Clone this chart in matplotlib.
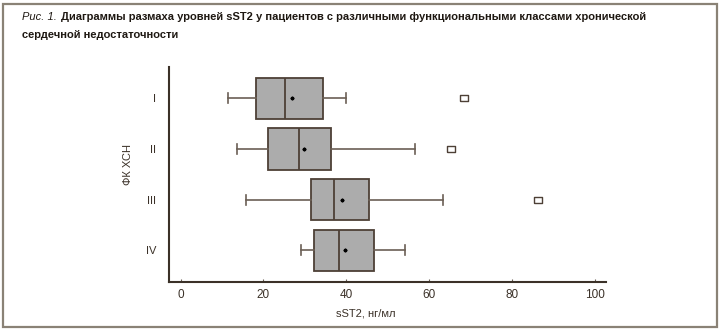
import matplotlib.pyplot as plt
from matplotlib.patches import Rectangle

# sST2 levels by NYHA functional class
classes = ["I", "II", "III", "IV"]
q1 = [18.2, 21.2, 31.4, 32.2]
medians = [25.2, 28.7, 37.0, 38.3]
q3 = [34.3, 36.4, 45.5, 46.8]
whis_low = [11.4, 13.7, 15.7, 29.2]
whis_high = [40.0, 56.6, 63.3, 54.2]
means = [26.9, 29.8, 39.0, 39.7]
outliers = [[68.5], [65.4], [86.3], []]

caption_lead = "Рис. 1."
caption_line1 = "Диаграммы размаха уровней sST2 у пациентов с различными функциональными классами хронической"
caption_line2 = "сердечной недостаточности"

ink = "#3b3128"
frame = "#8a8276"

plt.rcParams["font.family"] = ["Liberation Sans", "DejaVu Sans"]

fig = plt.figure(figsize=(7.2, 3.31), dpi=100)
ax = fig.add_axes([0.2347, 0.149, 0.6066, 0.6487])

stats = []
for i, name in enumerate(classes):
    stats.append({
        "label": name,
        "q1": q1[i],
        "med": medians[i],
        "q3": q3[i],
        "whislo": whis_low[i],
        "whishi": whis_high[i],
        "mean": means[i],
        "fliers": outliers[i],
    })

rect_marker = [(-1.5, -1), (1.5, -1), (1.5, 1), (-1.5, 1), (-1.5, -1)]

ax.bxp(
    stats,
    positions=range(1, len(classes) + 1),
    vert=False,
    widths=0.81,
    capwidths=0.2,
    patch_artist=True,
    showmeans=True,
    boxprops=dict(facecolor="#acacac", edgecolor="#4d4036", linewidth=1.3),
    medianprops=dict(color="#4d4036", linewidth=1.3),
    whiskerprops=dict(color="#6b5f55", linewidth=1.2),
    capprops=dict(color="#6b5f55", linewidth=1.2),
    meanprops=dict(marker="P", markersize=2, markerfacecolor="black",
                   markeredgecolor="black"),
    flierprops=dict(marker=rect_marker, markersize=6, markerfacecolor="white",
                    markeredgecolor="#4d4036", markeredgewidth=1.0),
)

ax.set_xlim(-2.8, 102.7)
ax.set_ylim(4.62, 0.38)
ax.set_xticks([0, 20, 40, 60, 80, 100])
ax.set_yticks(range(1, len(classes) + 1))
ax.set_yticklabels(classes)

for side in ["top", "right"]:
    ax.spines[side].set_visible(False)
for side in ["left", "bottom"]:
    ax.spines[side].set_color(ink)
    ax.spines[side].set_linewidth(1.5)

ax.tick_params(axis="x", direction="in", length=2.5, width=0.8, color="#6b5f55",
               pad=5, labelsize=8.5, labelcolor=ink)
ax.tick_params(axis="y", length=0, pad=9, labelsize=8, labelcolor=ink)

fig.text(0.178, 0.504, "ФК ХСН", rotation=90, ha="center", va="center",
         fontsize=8, color=ink)
fig.text(0.508, 0.054, "sST2, нг/мл", ha="center", va="center",
         fontsize=8, color=ink)

# caption: italic lead, bold remainder right after it, sized to fit the line
cap_size = 9
lead = fig.text(0.031, 0.948, caption_lead, style="italic", fontsize=cap_size,
                color="#1e1812", ha="left", va="center")
body = fig.text(0.0, 0.948, caption_line1, weight="bold", fontsize=cap_size,
                color="#1e1812", ha="left", va="center")
line2 = fig.text(0.031, 0.894, caption_line2, weight="bold", fontsize=cap_size,
                 color="#1e1812", ha="left", va="center")

renderer = fig.canvas.get_renderer()
total = lead.get_window_extent(renderer).width + 4 + body.get_window_extent(renderer).width
cap_size = cap_size * 626 / total
for t in (lead, body, line2):
    t.set_fontsize(cap_size)
lead_end = lead.get_window_extent(renderer).x1 + 4
body.set_x(lead_end / fig.bbox.width)

fig.patches.append(Rectangle((2.5 / 720, 4.5 / 331), 714 / 720, 323 / 331,
                             transform=fig.transFigure, fill=False,
                             edgecolor=frame, linewidth=1.6))

fig.savefig("out.png", dpi=100, facecolor="white")
